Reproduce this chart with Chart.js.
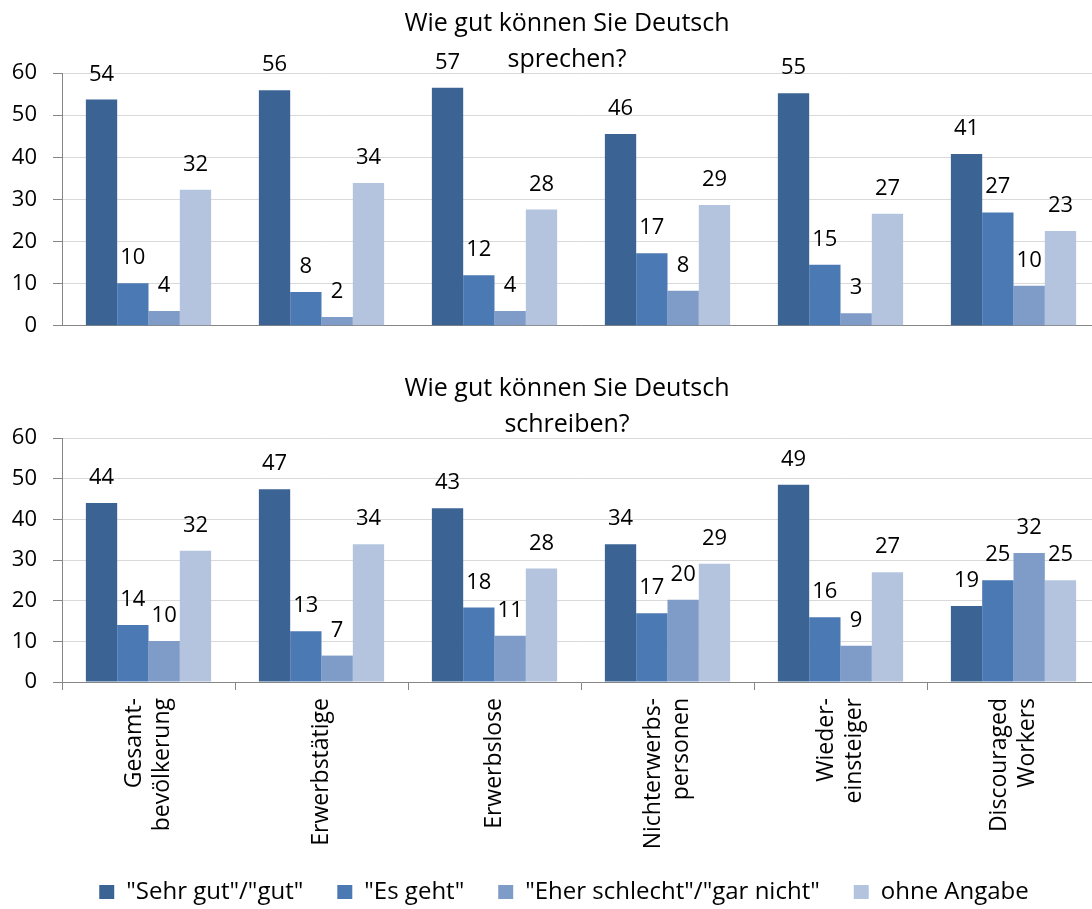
<!DOCTYPE html>
<html>
<head>
<meta charset="utf-8">
<script src="https://cdn.jsdelivr.net/npm/chart.js@4"></script>
<style>
  html, body { margin:0; padding:0; background:#fff; overflow:hidden; width:1092px; height:909px; }
  .box { position:absolute; left:0; width:1100px; }
</style>
</head>
<body>
<div class="box" style="top:0;height:355px;"><canvas id="chart-sprechen"></canvas></div>
<div class="box" style="top:340px;height:574px;"><canvas id="chart-schreiben"></canvas></div>
<script>
// ===== 데이터 =====
var CATEGORIES = [["Gesamt-", "bevölkerung"], "Erwerbstätige", "Erwerbslose", ["Nichterwerbs-", "personen"], ["Wieder-", "einsteiger"], ["Discouraged", "Workers"]];
var SERIES = ["\"Sehr gut\"/\"gut\"", "\"Es geht\"", "\"Eher schlecht\"/\"gar nicht\"", "ohne Angabe"];
var COLORS = ["#3B6495", "#4A79B3", "#7F9CC9", "#B4C4DF"];
var Y_TICKS = [0, 10, 20, 30, 40, 50, 60];

// Wie gut können Sie Deutsch sprechen?
var SPRECHEN_SEHR_GUT = [53.7, 55.9, 56.5, 45.5, 55.2, 40.8];
var SPRECHEN_ES_GEHT  = [10.1, 8.0, 12.0, 17.2, 14.5, 26.9];
var SPRECHEN_SCHLECHT = [3.5, 2.1, 3.5, 8.3, 3.0, 9.5];
var SPRECHEN_OHNE     = [32.3, 33.9, 27.6, 28.7, 26.6, 22.5];

// Wie gut können Sie Deutsch schreiben?
var SCHREIBEN_SEHR_GUT = [44.0, 47.4, 42.7, 33.9, 48.5, 18.7];
var SCHREIBEN_ES_GEHT  = [14.0, 12.5, 18.3, 16.9, 15.9, 25.0];
var SCHREIBEN_SCHLECHT = [10.1, 6.5, 11.4, 20.2, 8.9, 31.7];
var SCHREIBEN_OHNE     = [32.3, 33.9, 27.9, 29.1, 27.0, 25.0];

var FONT = "'Open Sans', 'DejaVu Sans', sans-serif";
Chart.defaults.font.family = FONT;
Chart.defaults.font.size = 22;
Chart.defaults.color = "#000";

// ===== 플러그인: 막대 위 값 =====
var valueLabels = {
  id: "valueLabels",
  afterDatasetsDraw: function (chart) {
    var ctx = chart.ctx;
    ctx.save();
    ctx.font = "22px " + FONT;
    ctx.fillStyle = "#000";
    ctx.textAlign = "center";
    ctx.textBaseline = "alphabetic";
    chart.data.datasets.forEach(function (ds, i) {
      chart.getDatasetMeta(i).data.forEach(function (bar, j) {
        ctx.fillText(String(Math.round(ds.data[j])), bar.x, bar.y - 19);
      });
    });
    ctx.restore();
  }
};

// ===== 플러그인: 두 줄 제목 (플롯 위에 겹침) =====
var twoLineTitle = {
  id: "twoLineTitle",
  afterDraw: function (chart, args, opts) {
    var ctx = chart.ctx, top = chart.chartArea.top;
    ctx.save();
    ctx.font = "25px " + FONT;
    ctx.fillStyle = "#000";
    ctx.textAlign = "center";
    ctx.textBaseline = "alphabetic";
    ctx.fillText(opts.lines[0], opts.x, top - 42);
    ctx.fillText(opts.lines[1], opts.x, top - 6);
    ctx.restore();
  }
};

// ===== 플러그인: 세로 카테고리 라벨 (여러 줄을 틱 중심에 맞춤) =====
var verticalLabels = {
  id: "verticalLabels",
  afterDraw: function (chart, args, opts) {
    if (!opts.show) return;
    var ctx = chart.ctx, sc = chart.scales.x;
    ctx.save();
    ctx.font = "23px " + FONT;
    ctx.fillStyle = "#000";
    ctx.textAlign = "right";
    ctx.textBaseline = "middle";
    chart.data.labels.forEach(function (lab, i) {
      var lines = [].concat(lab);
      var x = sc.getPixelForTick(i);
      var y = sc.top + 16;
      lines.forEach(function (t, k) {
        var off = (k - (lines.length - 1) / 2) * 28;
        ctx.save();
        ctx.translate(x + off, y);
        ctx.rotate(-Math.PI / 2);
        ctx.fillText(t, 0, 0);
        ctx.restore();
      });
    });
    ctx.restore();
  }
};

// 범례를 조금 오른쪽으로
var legendShift = {
  id: "legendShift",
  afterLayout: function (chart, args, opts) {
    if (chart.legend && opts.dx) {
      chart.legend.left += opts.dx;
      chart.legend.right += opts.dx;
    }
  }
};

function makeDatasets(a, b, c, d) {
  var vals = [a, b, c, d];
  return SERIES.map(function (name, i) {
    return { label: name, data: vals[i], backgroundColor: COLORS[i], borderWidth: 0,
             categoryPercentage: 0.724, barPercentage: 1.0 };
  });
}

function makeOptions(showX, title, padTop, padBottom, xHeight) {
  return {
    responsive: true,
    maintainAspectRatio: false,
    animation: false,
    layout: { padding: { top: padTop, bottom: padBottom, left: 0, right: 0 } },
    scales: {
      x: {
        grid: { display: showX, drawOnChartArea: false, drawTicks: showX, tickLength: 8, tickColor: "#868686", offset: true },
        border: { display: true, color: "#868686" },
        ticks: { display: false },
        afterFit: function (s) { s.height = xHeight; }
      },
      y: {
        min: 0, max: 60,
        afterBuildTicks: function (s) { s.ticks = Y_TICKS.map(function (v) { return { value: v }; }); },
        grid: { color: "#D9D9D9", tickColor: "#868686", tickLength: 9 },
        border: { display: true, color: "#868686" },
        ticks: { padding: 16, font: { size: 22 } },
        afterFit: function (s) { s.width = 62; }
      }
    },
    plugins: {
      legend: {
        display: showX,
        position: "bottom",
        labels: { boxWidth: 15, boxHeight: 14, padding: 34, font: { size: 24 } }
      },
      tooltip: { enabled: false },
      twoLineTitle: { lines: title, x: 567 },
      verticalLabels: { show: showX },
      legendShift: { dx: 14 }
    }
  };
}

new Chart(document.getElementById("chart-sprechen"), {
  type: "bar",
  data: { labels: CATEGORIES, datasets: makeDatasets(SPRECHEN_SEHR_GUT, SPRECHEN_ES_GEHT, SPRECHEN_SCHLECHT, SPRECHEN_OHNE) },
  options: makeOptions(false, ["Wie gut können Sie Deutsch", "sprechen?"], 73, 0, 0),
  plugins: [valueLabels, twoLineTitle, verticalLabels, legendShift]
});

new Chart(document.getElementById("chart-schreiben"), {
  type: "bar",
  data: { labels: CATEGORIES, datasets: makeDatasets(SCHREIBEN_SEHR_GUT, SCHREIBEN_ES_GEHT, SCHREIBEN_SCHLECHT, SCHREIBEN_OHNE) },
  options: makeOptions(true, ["Wie gut können Sie Deutsch", "schreiben?"], 98, 0, 164),
  plugins: [valueLabels, twoLineTitle, verticalLabels, legendShift]
});
</script>
</body>
</html>
